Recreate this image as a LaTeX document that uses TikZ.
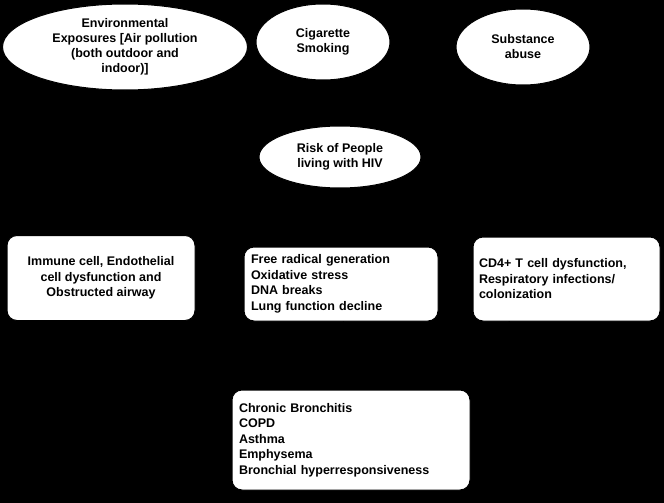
\documentclass[tikz,border=0pt]{standalone}
\usepackage{fontspec}
\setmainfont{Liberation Sans}
\usetikzlibrary{shapes.geometric,arrows.meta}
\begin{document}
\begin{tikzpicture}[x=1pt,y=-1pt,
 ell/.style={ellipse,draw=black,fill=white,line width=1pt,align=center,font=\bfseries\fontsize{12.5}{15}\selectfont,inner sep=0pt},
 box/.style={rectangle,rounded corners=10pt,draw=black,fill=white,line width=1pt,font=\bfseries\fontsize{12.5}{15.5}\selectfont,inner sep=0pt},
 arr/.style={-{Stealth},black,line width=1pt}]
\fill[black] (0,0) rectangle (664,503);
\useasboundingbox (0,0) rectangle (664,503);
\node[ell,minimum width=245,minimum height=86] (env) at (125,47) {Environmental\\Exposures [Air pollution\\(both outdoor and\\indoor)]};
\node[ell,minimum width=134,minimum height=76] (cig) at (323,42) {Cigarette\\Smoking};
\node[ell,minimum width=134,minimum height=76] (sub) at (523,47) {Substance\\abuse};
\node[ell,minimum width=162,minimum height=62] (risk) at (340,157) {Risk of People\\living with HIV};
\node[box,minimum width=188,minimum height=85,align=center] (imm) at (101,278) {Immune cell, Endothelial\\cell dysfunction and\\Obstructed airway};
\node[box,minimum width=194,minimum height=74,align=left,text width=180] (free) at (341,284) {Free radical generation\\Oxidative stress\\DNA breaks\\Lung function decline};
\node[box,minimum width=187,minimum height=84,align=left,text width=175] (cd4) at (566.5,279) {CD4+ T cell dysfunction,\\Respiratory infections/\\colonization};
\node[box,minimum width=238,minimum height=100,align=left,text width=224] (dis) at (351,440) {Chronic Bronchitis\\COPD\\Asthma\\Emphysema\\Bronchial hyperresponsiveness};
\draw[arr] (env) -- (risk);
\draw[arr] (cig) -- (risk);
\draw[arr] (sub) -- (risk);
\draw[arr] (risk) -- (imm);
\draw[arr] (risk) -- (free);
\draw[arr] (risk) -- (cd4);
\draw[arr] (imm) -- (dis);
\draw[arr] (free) -- (dis);
\draw[arr] (cd4) -- (dis);
\end{tikzpicture}
\end{document}
